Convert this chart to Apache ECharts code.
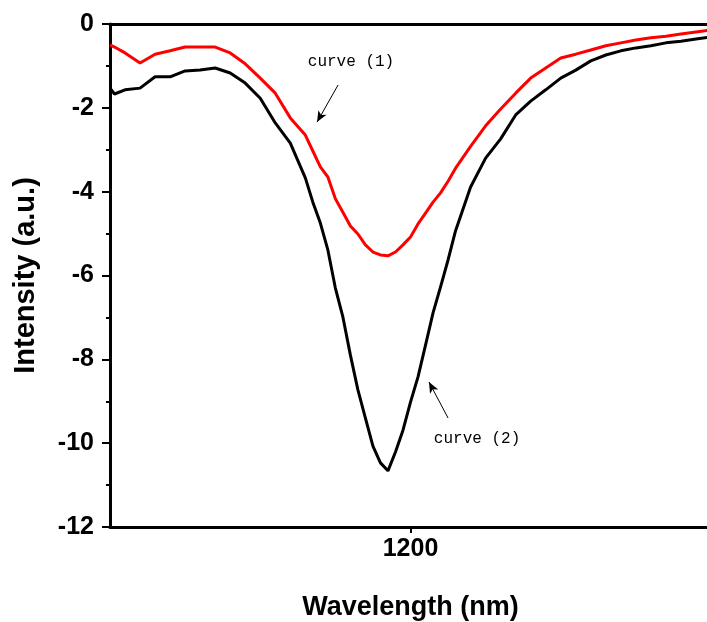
<!DOCTYPE html>
<html>
<head>
<meta charset="utf-8">
<script src="https://cdn.jsdelivr.net/npm/echarts@6/dist/echarts.min.js"></script>
<style>html,body{margin:0;padding:0;background:#fff;}#c{width:707px;height:622px;}</style>
</head>
<body>
<div id="c"></div>
<script>
// Wavelength grid (nm)
var wavelength = [1000,1003,1010,1020,1030,1040,1050,1060,1070,1080,1090,1100,1110,1120,
  1130,1135,1140,1145,1150,1155,1160,1165,1170,1175,1180,1185,1190,1195,1200,1205,1210,1215,1220,1225,1230,
  1240,1250,1260,1270,1280,1290,1300,1310,1320,1330,1340,1350,1360,1370,1380,1390,1400];
// curve (1) - red
var curve1 = [-0.50,-0.55,-0.69,-0.93,-0.72,-0.64,-0.55,-0.55,-0.55,-0.69,-0.95,-1.29,-1.65,-2.24,
  -2.65,-3.03,-3.41,-3.65,-4.17,-4.49,-4.82,-5.01,-5.27,-5.44,-5.51,-5.53,-5.44,-5.27,-5.08,-4.77,-4.51,-4.25,-4.03,-3.75,-3.44,
  -2.92,-2.43,-2.03,-1.65,-1.29,-1.05,-0.81,-0.72,-0.62,-0.52,-0.45,-0.38,-0.33,-0.29,-0.24,-0.19,-0.14];
// curve (2) - black
var curve2 = [-1.53,-1.67,-1.57,-1.53,-1.26,-1.26,-1.12,-1.10,-1.05,-1.17,-1.41,-1.77,-2.36,-2.84,
  -3.67,-4.25,-4.75,-5.39,-6.30,-6.99,-7.90,-8.73,-9.40,-10.07,-10.47,-10.66,-10.21,-9.69,-9.02,-8.42,-7.66,-6.89,-6.27,-5.63,-4.93,
  -3.89,-3.20,-2.74,-2.17,-1.84,-1.57,-1.29,-1.10,-0.88,-0.74,-0.64,-0.57,-0.52,-0.45,-0.41,-0.36,-0.31];
var xTicks = [1000, 1200, 1400];
var yTicks = [0, -2, -4, -6, -8, -10, -12];
var labels = ['curve (1)', 'curve (2)'];
var labelPos = [[1160.4, -0.91], [1244.3, -9.90]];
var arrows = [[[1151.8, -1.455], [1137.8, -2.34]], [[1225.0, -9.40], [1212.3, -8.54]]];

function pairs(xs, ys) { return xs.map(function (x, i) { return [x, ys[i]]; }); }

var chart = echarts.init(document.getElementById('c'));
var font = 'Liberation Sans, Arial, sans-serif';
chart.setOption({
  animation: false,
  grid: { left: 110, right: -4, top: 24, bottom: 95, containLabel: false, outerBoundsMode: 'none' },
  xAxis: [{
    type: 'value', min: xTicks[0], max: xTicks[2], interval: 200, position: 'bottom',
    name: 'Wavelength (nm)', nameLocation: 'middle', nameGap: 67,
    nameTextStyle: { fontFamily: font, fontWeight: 'bold', fontSize: 27, color: '#000', verticalAlign: 'top' },
    axisLine: { show: true, onZero: false, lineStyle: { color: '#000', width: 3 } },
    axisTick: { show: true, length: 6, lineStyle: { color: '#000', width: 2 } },
    axisLabel: { showMinLabel: false, showMaxLabel: false, fontFamily: font, fontWeight: 'bold', fontSize: 25, color: '#000', margin: 10,
      formatter: function (v) { return String(v); } },
    splitLine: { show: false }
  }, {
    type: 'value', position: 'top', min: xTicks[0], max: xTicks[2],
    axisLine: { show: true, onZero: false, lineStyle: { color: '#000', width: 3 } },
    axisTick: { show: false }, axisLabel: { show: false }, splitLine: { show: false }
  }],
  yAxis: {
    type: 'value', min: yTicks[6], max: yTicks[0], interval: 2,
    name: 'Intensity (a.u.)', nameLocation: 'middle', nameGap: 70, nameRotate: 90,
    nameTextStyle: { fontFamily: font, fontWeight: 'bold', fontSize: 29, color: '#000' },
    axisLine: { show: true, onZero: false, lineStyle: { color: '#000', width: 3 } },
    axisTick: { show: true, length: 8, lineStyle: { color: '#000', width: 2 } },
    minorTick: { show: true, splitNumber: 2, length: 4, lineStyle: { color: '#000', width: 2 } },
    axisLabel: { fontFamily: font, fontWeight: 'bold', fontSize: 25, color: '#000', margin: 16 },
    splitLine: { show: false }
  },
  series: [{
    name: labels[0], type: 'line', data: pairs(wavelength, curve1), showSymbol: false,
    lineStyle: { color: '#ff0000', width: 3 }, itemStyle: { color: '#ff0000' },
    markPoint: {
      symbol: 'circle', symbolSize: 0,
      label: { show: true, position: 'inside', formatter: '{b}', fontFamily: 'Liberation Mono, monospace', fontSize: 16, color: '#000' },
      data: [{ name: labels[0], coord: labelPos[0] }, { name: labels[1], coord: labelPos[1] }]
    },
    markLine: {
      silent: true, symbol: ['none', 'arrow'], symbolSize: [7, 11],
      label: { show: false },
      lineStyle: { color: '#000', width: 1, type: 'solid' },
      data: arrows.map(function (a) { return [{ coord: a[0] }, { coord: a[1] }]; })
    }
  }, {
    name: labels[1], type: 'line', data: pairs(wavelength, curve2), showSymbol: false,
    lineStyle: { color: '#000', width: 3 }, itemStyle: { color: '#000' }
  }]
});
</script>
</body>
</html>
